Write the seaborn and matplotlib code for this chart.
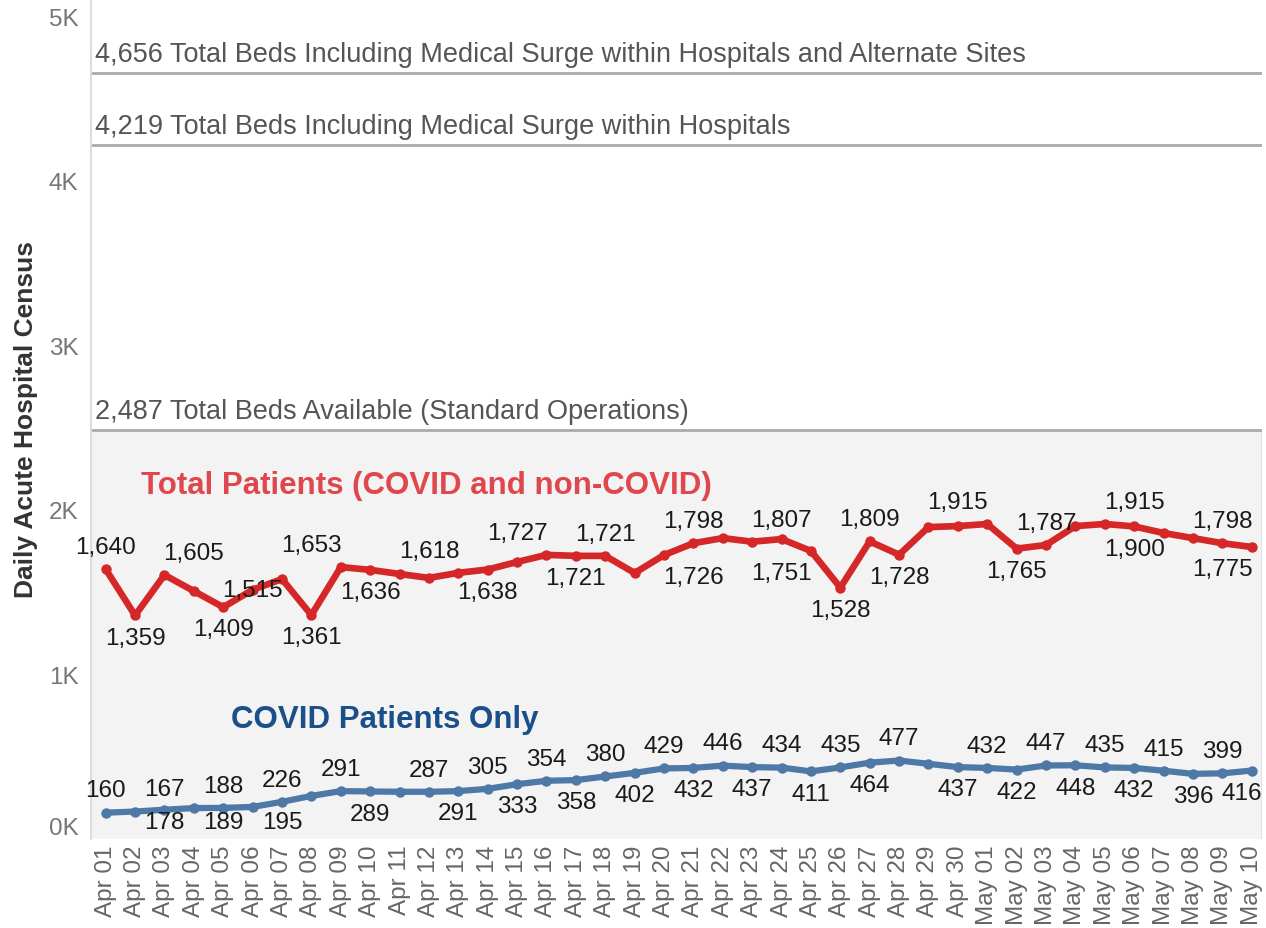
import matplotlib
matplotlib.use("Agg")
import matplotlib.pyplot as plt
import seaborn as sns
import pandas as pd
import numpy as np

# Dates Apr 01 .. May 10
dates = pd.date_range("2020-04-01", "2020-05-10").strftime("%b %d").tolist()

# Daily census
total_patients = [1640, 1359, 1605, 1507, 1409, 1515, 1580, 1361, 1653, 1636,
                  1611, 1587, 1618, 1638, 1684, 1727, 1721, 1721, 1617, 1726,
                  1798, 1829, 1807, 1823, 1751, 1528, 1809, 1728, 1896, 1902,
                  1915, 1765, 1787, 1902, 1915, 1900, 1860, 1829, 1798, 1775]
covid_patients = [160, 167, 178, 188, 189, 195, 226, 262, 291, 289,
                  287, 287, 291, 305, 333, 354, 358, 380, 402, 429,
                  432, 446, 437, 434, 411, 435, 464, 477, 457, 437,
                  432, 422, 447, 448, 435, 432, 415, 396, 399, 416]

# Data labels as shown (date index, value)
red_above_idx = [0, 3, 7, 11, 14, 17, 20, 23, 26, 29, 32, 35, 38]
red_above_val = [1640, 1605, 1653, 1618, 1727, 1721, 1798, 1807, 1809, 1915, 1787, 1915, 1798]
red_below_idx = [1, 4, 7, 9, 13, 16, 20, 23, 25, 27, 31, 35, 38]
red_below_val = [1359, 1409, 1361, 1636, 1638, 1721, 1726, 1751, 1528, 1728, 1765, 1900, 1775]
red_mid_idx = [5]
red_mid_val = [1515]
blue_above_idx = [0, 2, 4, 6, 8, 11, 13, 15, 17, 19, 21, 23, 25, 27, 30, 32, 34, 36, 38]
blue_above_val = [160, 167, 188, 226, 291, 287, 305, 354, 380, 429, 446, 434, 435, 477, 432, 447, 435, 415, 399]
blue_below_idx = [2, 4, 6, 9, 12, 14, 16, 18, 20, 22, 24, 26, 29, 31, 33, 35, 37, 39]
blue_below_val = [178, 189, 195, 289, 291, 333, 358, 402, 432, 437, 411, 464, 437, 422, 448, 432, 396, 416]

# Capacity reference lines
cap_values = [4656, 4219, 2487]
cap_labels = ["Total Beds Including Medical Surge within Hospitals and Alternate Sites",
              "Total Beds Including Medical Surge within Hospitals",
              "Total Beds Available (Standard Operations)"]

sns.set_style("white")
plt.rcParams['font.family'] = ['Liberation Sans', 'DejaVu Sans']

RED = "#d62728"
RED_TXT = "#e0474c"
BLUE = "#4e79a7"
BLUE_TXT = "#1b4f8a"
GREY = "#666666"

df = pd.DataFrame({"x": range(len(dates)), "total": total_patients, "covid": covid_patients})

fig = plt.figure(figsize=(12.66, 9.29), dpi=100)
ax = fig.add_axes([91 / 1266, 89 / 929, 1171 / 1266, 840 / 929])
XMAX = 39.35

ax.axhspan(0, cap_values[-1], color="#f3f3f3", zorder=0)
ax.axvline(XMAX, ymax=cap_values[-1] / 5106, color="#e2e2e2", lw=1.5, zorder=1)
for v, lab in zip(cap_values, cap_labels):
    ax.axhline(v, color="#aaaaaa", lw=2, zorder=1)
    ax.annotate(f"{v:,} {lab}", xy=(-0.38, v), xytext=(0, 4), textcoords="offset points",
                ha="left", va="bottom", fontsize=19.5, color="#555555")

sns.lineplot(data=df, x="x", y="total", ax=ax, color=RED, lw=4.8, marker="o",
             markersize=7.5, markeredgewidth=0, zorder=3)
sns.lineplot(data=df, x="x", y="covid", ax=ax, color=BLUE, lw=4.5, marker="o",
             markersize=7.5, markeredgewidth=0, zorder=3)

OFF = 135
last = len(dates) - 1


def put(i, y, v):
    kw = dict(ha="center", va="center", fontsize=17.5, color="#1a1a1a", zorder=4)
    x = i
    if i == last:
        # keep the label inside the pane like the original
        kw["ha"] = "right"
        x = XMAX
    ax.text(x, y, f"{v:,}", **kw)


for i, v in zip(red_above_idx, red_above_val):
    put(i, v + OFF, v)
for i, v in zip(red_below_idx, red_below_val):
    put(i, v - OFF, v)
for i, v in zip(red_mid_idx, red_mid_val):
    put(i, v, v)
for i, v in zip(blue_above_idx, blue_above_val):
    put(i, v + OFF, v)
for i, v in zip(blue_below_idx, blue_below_val):
    put(i, max(v - OFF, 105), v)

ax.text(10.9, 2150, "Total Patients (COVID and non-COVID)", ha="center", va="center",
        fontsize=22.5, fontweight="bold", color=RED_TXT)
ax.text(9.5, 730, "COVID Patients Only", ha="center", va="center",
        fontsize=22.5, fontweight="bold", color=BLUE_TXT)

ax.set_xlim(-0.5, XMAX)
ax.set_ylim(0, 5106)
ax.set_xticks(range(len(dates)))
ax.set_xticklabels(dates, rotation=90, fontsize=17.5, color=GREY)
ax.set_yticks([0, 1000, 2000, 3000, 4000, 5000])
ax.set_yticklabels(["0K", "1K", "2K", "3K", "4K", "5K"], fontsize=17.5, color="#777777")
ax.get_yticklabels()[0].set_va("bottom")
ax.tick_params(axis="both", length=0)
ax.tick_params(axis="x", pad=4)
ax.tick_params(axis="y", pad=9)
ax.set_xlabel("")
ax.set_ylabel("Daily Acute Hospital Census", fontsize=19, fontweight="bold", color="#333333")
ax.yaxis.set_label_coords(-0.045, 0.5)
for s in ["top", "right", "bottom"]:
    ax.spines[s].set_visible(False)
ax.spines["left"].set_color("#dddddd")
ax.spines["left"].set_linewidth(1.5)

fig.savefig("out.png", dpi=100)
